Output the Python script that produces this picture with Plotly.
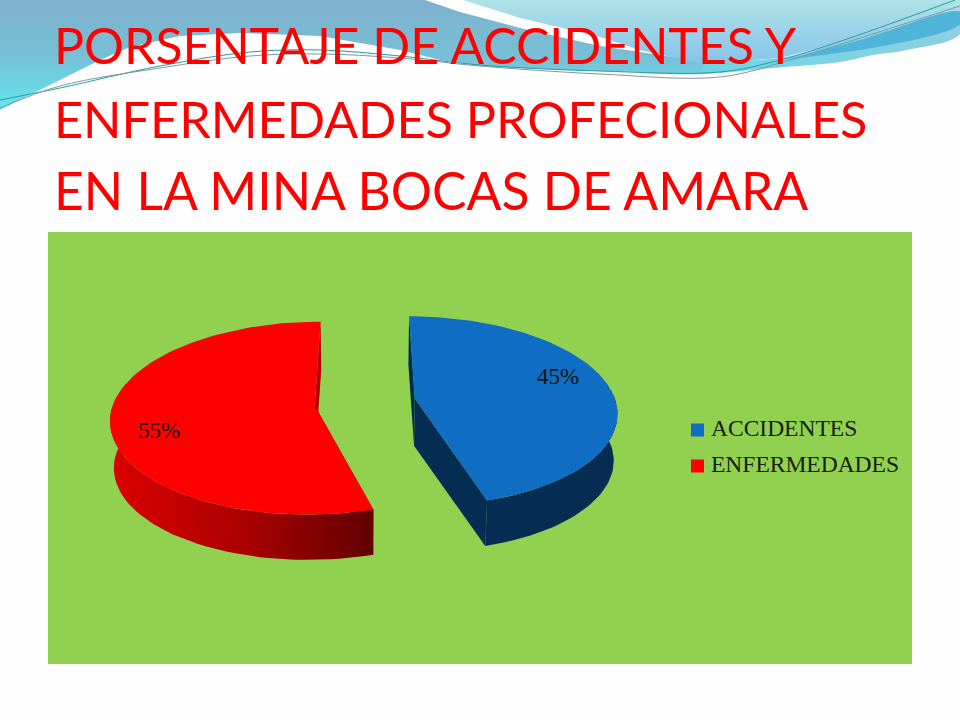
import numpy as np
import plotly.graph_objects as go

# chart data
categories = ["ACCIDENTES", "ENFERMEDADES"]
values = [45.4, 54.6]  # shown rounded: 45% / 55%
top_colors = ["#0f6dc4", "#ff0000"]
side_colors = ["#052d53", "#b00000"]
title_lines = ["PORSENTAJE DE ACCIDENTES Y", "ENFERMEDADES PROFECIONALES", "EN LA MINA BOCAS DE AMARA"]
title_y = [45, 118, 190]
title_size = [50, 50.4, 51.6]
label_x = [558, 159]
label_y = [378, 432]
legend_y = [430, 466]

# slide decoration (wave at the top)
wave_left_x = [0, 0, 425, 460, 520, 600, 680, 705, 700, 640, 560, 480, 440, 400, 320, 240, 180, 130, 100, 60, 25, 0]
wave_left_y = [100, 0, 0, 12, 28, 46, 58, 64, 72, 72, 70, 66, 60, 50, 36, 33, 36, 47, 60, 80, 97, 110]
wave_top_x = [463, 960, 960, 860, 780, 703, 640, 600, 520]
wave_top_y = [0, 0, 10, 38, 58, 64, 50, 37, 18]
wave_band_x = [640, 705, 773, 840, 873, 907, 960, 960, 860, 780, 700, 640]
wave_band_y = [73, 74, 68, 62, 55, 50, 34, 8, 36, 58, 60, 60]
wave_dark_x = [785, 860, 960, 960, 860]
wave_dark_y = [60, 40, 12, 24, 50]
line_a_x = [0, 60, 160, 250, 320, 400, 480, 600, 720, 780, 850, 955]
line_a_y = [100, 88, 66, 52, 50, 56, 65, 71, 72, 60, 38, 0]
line_b_x = [0, 60, 160, 250, 320, 400, 480, 600, 720, 790, 860, 960]
line_b_y = [108, 86, 68, 56, 54, 58, 66, 74, 77, 60, 38, 6]

# pie geometry (tilted disc drawn through a simple perspective)
CX, CY = 365, 402
A, B, P = 201, 93.9, 0.131
EXPLODE = 0.2515
DEPTH = 47
SHRINK = 0.985


def project(ux, uy):
    w = 1 - P * uy
    return CX + A * ux / w, CY + B * uy / w


def drop(x, y):
    return CX + (x - CX) * SHRINK, CY + DEPTH + (y - CY) * SHRINK


fig = go.Figure()


def poly(x, y, color=None, gradient=None, spline=False):
    trace = go.Scatter(x=x, y=y, mode="lines", fill="toself",
                       line=dict(width=0, shape="spline" if spline else "linear"),
                       hoverinfo="skip", showlegend=False)
    if gradient:
        trace.fillgradient = gradient
    else:
        trace.fillcolor = color
    fig.add_trace(trace)


# wave shapes
poly(wave_band_x, wave_band_y, gradient=dict(type="horizontal", colorscale=[[0, "#62d8e6"], [1, "#8fcfe0"]]), spline=True)
poly(wave_left_x, wave_left_y, gradient=dict(type="vertical", colorscale=[[0, "#62e6f0"], [0.5, "#77bfd6"], [1, "#7fb0cc"]]))
poly(wave_top_x, wave_top_y, gradient=dict(type="vertical", colorscale=[[0, "#86c3ea"], [1, "#aee3e8"]]))
poly(wave_dark_x, wave_dark_y, color="#4fb4d8", spline=True)
fig.add_trace(go.Scatter(x=line_a_x, y=line_a_y, mode="lines", line=dict(color="#2a9c9c", width=1, shape="spline"),
                         hoverinfo="skip", showlegend=False))
fig.add_trace(go.Scatter(x=line_b_x, y=line_b_y, mode="lines", line=dict(color="#7f98a8", width=1, shape="spline"),
                         hoverinfo="skip", showlegend=False))

# slices, from the values
edges = np.cumsum([0] + values) / sum(values) * 2 * np.pi
for i in range(len(values)):
    a0, a1 = edges[i], edges[i + 1]
    mid = (a0 + a1) / 2
    ox, oy = EXPLODE * np.sin(mid), -EXPLODE * np.cos(mid)
    th = np.linspace(a0, a1, 90)
    ax, ay = project(ox + np.sin(th), oy - np.cos(th))
    px, py = project(ox, oy)
    bx, by = drop(ax, ay)
    pbx, pby = drop(px, py)

    # cut faces
    poly([ax[0], px, pbx, bx[0]], [ay[0], py, pby, by[0]], color=side_colors[i])
    poly([ax[-1], px, pbx, bx[-1]], [ay[-1], py, pby, by[-1]], color=side_colors[i])

    # rim, only the part that faces the viewer
    front = np.cos(th) < 0.1
    rim_x = np.r_[ax[front], bx[front][::-1]]
    rim_y = np.r_[ay[front], by[front][::-1]]
    if i == 1:
        poly(rim_x, rim_y, gradient=dict(type="horizontal",
             colorscale=[[0, "#dc0000"], [0.5, "#ac0000"], [1, "#620000"]]))
    else:
        poly(rim_x, rim_y, color=side_colors[i])

    # top
    poly(np.r_[px, ax], np.r_[py, ay], color=top_colors[i])

# percent labels
fig.add_trace(go.Scatter(x=label_x, y=label_y, mode="text", text=[f"{v:.0f}%" for v in values],
                         textfont=dict(family="Liberation Serif", size=23, color="#14140a"),
                         hoverinfo="skip", showlegend=False))

# legend
fig.add_trace(go.Scatter(x=[697.5, 697.5], y=legend_y, mode="markers",
                         marker=dict(symbol="square", size=13, color=top_colors),
                         hoverinfo="skip", showlegend=False))
fig.add_trace(go.Scatter(x=[711, 711], y=legend_y, mode="text", text=categories,
                         textposition="middle right",
                         textfont=dict(family="Liberation Serif", size=23.5, color="#14200a"),
                         hoverinfo="skip", showlegend=False))

for line, y, size in zip(title_lines, title_y, title_size):
    fig.add_annotation(x=52, y=y, xref="x", yref="y", text=line, showarrow=False, xanchor="left",
                       yanchor="middle", font=dict(family="Lato", size=size, color="#ff0000"))

fig.add_shape(type="rect", x0=48, x1=912, y0=232, y1=664, fillcolor="#92d050", line_width=0, layer="below")

fig.update_layout(
    width=960, height=720,
    margin=dict(l=0, r=0, t=0, b=0),
    paper_bgcolor="#fefefe",
    plot_bgcolor="rgba(0,0,0,0)",
    showlegend=False,
    xaxis=dict(range=[0, 960], visible=False, fixedrange=True),
    yaxis=dict(range=[720, 0], visible=False, fixedrange=True),
)

fig.write_html("out.html", config=dict(displayModeBar=False), post_script="document.body.style.margin='0';")
